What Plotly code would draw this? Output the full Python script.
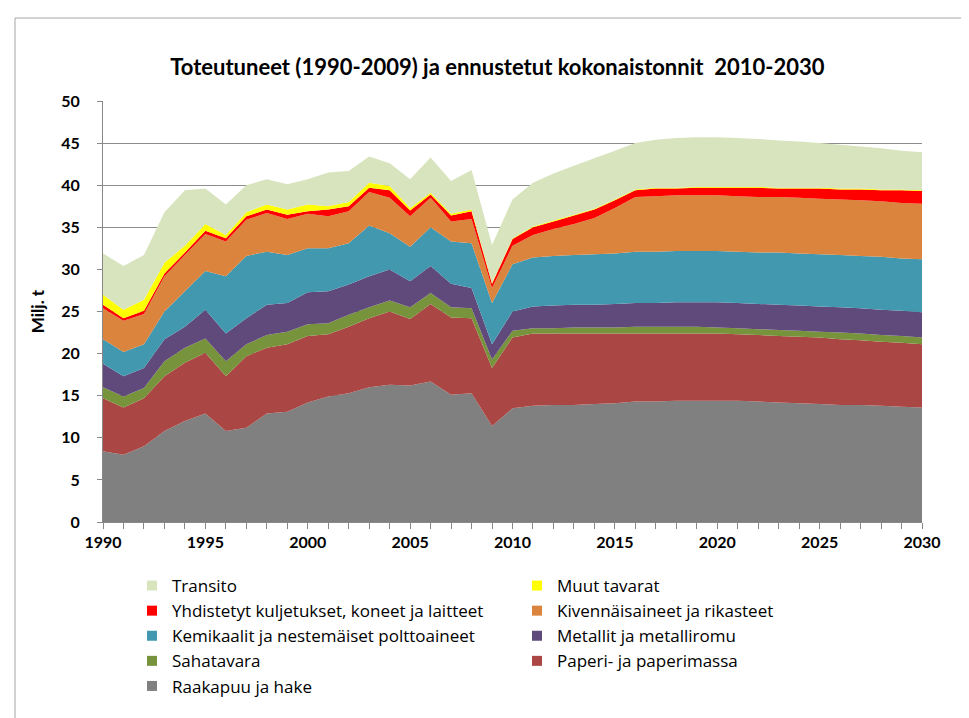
import plotly.graph_objects as go

years = list(range(1990, 2031))

raakapuu = [8.4, 8.0, 9.0, 10.8, 12.0, 12.9, 10.8, 11.2, 12.9, 13.1, 14.2, 14.9, 15.3, 16.0, 16.3, 16.2, 16.7, 15.1, 15.3, 11.4,
            13.5, 13.8, 13.9, 13.9, 14.0, 14.1, 14.3, 14.3, 14.4, 14.4, 14.4, 14.4, 14.3, 14.2, 14.1, 14.0, 13.9, 13.9, 13.8, 13.7, 13.6]
paperi = [6.3, 5.6, 5.7, 6.5, 6.9, 7.2, 6.5, 8.5, 7.8, 8.0, 7.9, 7.4, 7.9, 8.2, 8.7, 7.9, 9.2, 9.2, 8.9, 6.9,
          8.4, 8.6, 8.5, 8.5, 8.4, 8.3, 8.1, 8.1, 8.0, 8.0, 8.0, 7.9, 7.9, 7.9, 7.9, 7.9, 7.8, 7.7, 7.6, 7.6, 7.5]
sahatavara = [1.3, 1.3, 1.2, 1.8, 1.8, 1.7, 1.8, 1.4, 1.5, 1.5, 1.4, 1.3, 1.4, 1.3, 1.3, 1.4, 1.3, 1.2, 1.2, 1.0,
              0.8, 0.6, 0.6, 0.7, 0.7, 0.7, 0.8, 0.8, 0.8, 0.8, 0.7, 0.7, 0.7, 0.7, 0.7, 0.7, 0.8, 0.8, 0.8, 0.8, 0.8]
metallit = [2.8, 2.4, 2.4, 2.6, 2.5, 3.4, 3.3, 3.1, 3.6, 3.4, 3.8, 3.8, 3.6, 3.7, 3.7, 3.1, 3.2, 2.8, 2.4, 1.8,
            2.3, 2.6, 2.7, 2.7, 2.7, 2.8, 2.8, 2.8, 2.9, 2.9, 3.0, 3.0, 3.0, 3.0, 3.0, 3.0, 3.0, 3.0, 3.0, 3.0, 3.0]
kemikaalit = [2.9, 2.9, 2.8, 3.3, 4.2, 4.6, 6.8, 7.4, 6.3, 5.7, 5.2, 5.1, 4.9, 6.0, 4.3, 4.1, 4.6, 5.0, 5.3, 4.9,
              5.6, 5.8, 5.9, 5.9, 6.0, 6.0, 6.1, 6.1, 6.1, 6.1, 6.1, 6.1, 6.1, 6.2, 6.2, 6.2, 6.2, 6.2, 6.3, 6.2, 6.3]
kivennaiset = [3.7, 3.7, 3.6, 4.2, 4.3, 4.4, 4.1, 4.3, 4.6, 4.3, 4.1, 3.8, 3.8, 4.0, 4.2, 3.6, 3.5, 2.4, 2.9, 1.8,
               2.2, 2.7, 3.2, 3.7, 4.3, 5.4, 6.5, 6.6, 6.6, 6.6, 6.6, 6.6, 6.6, 6.6, 6.6, 6.6, 6.6, 6.6, 6.6, 6.6, 6.6]
yhdistetyt = [0.4, 0.3, 0.4, 0.3, 0.3, 0.4, 0.4, 0.4, 0.4, 0.5, 0.3, 0.8, 0.6, 0.5, 0.9, 0.7, 0.4, 0.7, 0.9, 0.5,
              0.8, 0.9, 0.9, 1.0, 1.0, 0.9, 0.8, 0.9, 0.8, 0.9, 0.9, 1.0, 1.1, 1.0, 1.1, 1.2, 1.2, 1.3, 1.3, 1.5, 1.5]
muut = [1.2, 1.0, 1.3, 1.3, 0.8, 0.8, 0.4, 0.5, 0.6, 0.6, 0.8, 0.4, 0.5, 0.6, 0.5, 0.3, 0.2, 0.2, 0.2, 0.1,
        0.1, 0.1, 0.1, 0.1, 0.1, 0.1, 0.1, 0.1, 0.1, 0.1, 0.1, 0.1, 0.1, 0.1, 0.1, 0.1, 0.1, 0.1, 0.1, 0.1, 0.1]
transito = [4.9, 5.2, 5.3, 6.0, 6.6, 4.2, 3.6, 3.2, 3.0, 3.0, 3.0, 4.0, 3.7, 3.1, 2.7, 3.4, 4.2, 3.9, 4.7, 4.5,
            4.6, 5.2, 5.6, 5.8, 6.0, 5.8, 5.5, 5.7, 5.9, 5.9, 5.9, 5.8, 5.7, 5.6, 5.5, 5.3, 5.2, 5.0, 4.9, 4.6, 4.5]

series = [
    ("Raakapuu ja hake", raakapuu, "#808080"),
    ("Paperi- ja paperimassa", paperi, "#AA4643"),
    ("Sahatavara", sahatavara, "#77933C"),
    ("Metallit ja metalliromu", metallit, "#604A7B"),
    ("Kemikaalit ja nestemäiset polttoaineet", kemikaalit, "#4198AF"),
    ("Kivennäisaineet ja rikasteet", kivennaiset, "#DB843D"),
    ("Yhdistetyt kuljetukset, koneet ja laitteet", yhdistetyt, "#FF0000"),
    ("Muut tavarat", muut, "#FFFF00"),
    ("Transito", transito, "#D7E4BD"),
]

FONT = "Lato"
LEGFONT = "Open Sans"

fig = go.Figure()
for name, vals, col in series:
    fig.add_trace(go.Scatter(
        x=years, y=vals, name=name, stackgroup="one", mode="none",
        fillcolor=col, line=dict(width=0), showlegend=False,
    ))
# legend entries with small square keys
for name, vals, col in series:
    fig.add_trace(go.Scatter(
        x=[None], y=[None], name=name, mode="markers",
        marker=dict(symbol="square", size=10, color=col), showlegend=True,
    ))

fig.update_layout(
    width=969, height=718,
    margin=dict(l=95, r=55, t=93, b=204),
    paper_bgcolor="white", plot_bgcolor="white",
    font=dict(family=FONT, color="#000000"),
    title=dict(
        text="<b>Toteutuneet (1990-2009) ja ennustetut kokonaistonnit  2010-2030</b>",
        x=0.505, xanchor="center", y=0.918, yanchor="middle",
        font=dict(family=FONT, size=22, color="#000000"),
    ),
    showlegend=True,
    legend=dict(
        orientation="h", traceorder="reversed",
        xref="container", yref="container",
        x=124 / 969, xanchor="left", y=1 - 560 / 718, yanchor="top",
        entrywidth=340, entrywidthmode="pixels",
        font=dict(family=LEGFONT, size=17, color="#000000"),
        bgcolor="rgba(0,0,0,0)",
    ),
    xaxis=dict(
        range=[1990, 2030], tickmode="array", tickvals=list(range(1990, 2031, 5)),
        ticks="outside", ticklen=6, tickcolor="#888888",
        minor=dict(dtick=1, ticks="outside", ticklen=6, tickcolor="#888888", showgrid=False),
        showline=True, linecolor="#888888", linewidth=1,
        showgrid=False, zeroline=False,
        tickfont=dict(family=FONT, size=16, color="#000000", weight="bold"),
    ),
    yaxis=dict(
        range=[0, 50], dtick=5, ticks="outside", ticklen=5, tickcolor="#888888",
        ticklabelstandoff=14,
        showline=True, linecolor="#888888", linewidth=1,
        showgrid=True, gridcolor="#8C8C8C", gridwidth=1, zeroline=False,
        tickfont=dict(family=FONT, size=16, color="#000000", weight="bold"),
        title=dict(text="<b>Milj. t</b>", standoff=12,
                   font=dict(family=FONT, size=17, color="#000000")),
    ),
)

fig.add_shape(type="rect", xref="paper", yref="paper",
              x0=(7 - 95) / 819, x1=(966 - 95) / 819,
              y0=(514 - 717) / 421, y1=(514 - 10) / 421,
              line=dict(color="#A6A6A6", width=1), fillcolor="rgba(0,0,0,0)", layer="below")

fig.write_html("out.html")
